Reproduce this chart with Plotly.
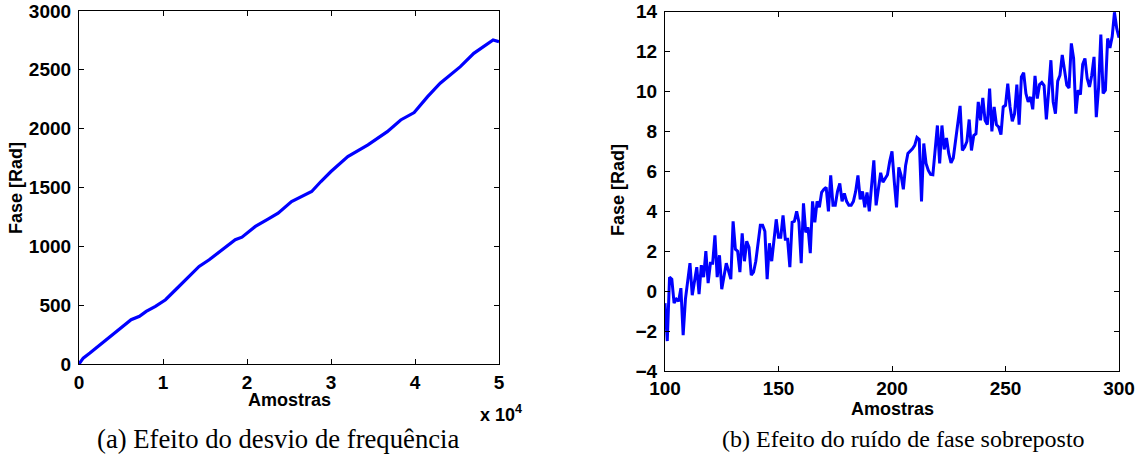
import plotly.graph_objects as go

# ---- data: (a) frequency deviation ----
amostras_a = [0, 500, 1300, 2800, 4800, 6200, 7200, 8000, 9100, 10300, 11500, 12700,
              14300, 15500, 17000, 18600, 19400, 21000, 22500, 23700, 25300, 26900,
              27700, 28800, 30000, 32000, 34400, 36700, 38300, 39900, 41500, 43000,
              45400, 47000, 49300, 50000]
fase_a = [0, 50, 93, 178, 291, 376, 405, 447, 490, 546, 631, 716, 829, 886, 971, 1056,
          1078, 1169, 1231, 1282, 1381, 1438, 1466, 1551, 1636, 1763, 1862, 1975, 2074,
          2137, 2272, 2386, 2527, 2640, 2754, 2740]

# ---- data: (b) superposed phase noise, samples 100..300 ----
amostras_b = list(range(100, 301))
fase_b = [
    -0.6, -2.5, 0.7, 0.6, -0.6, -0.4, -0.5, 0.15, -2.2, -0.4,      # 100-109
    0.5, 1.4, -0.2, 0.5, 1.2, -0.15, 1.3, 0.7, 2.0, 0.4,           # 110-119
    1.4, 1.4, 2.8, 0.7, 1.8, 0.1, 0.8, 1.4, 1.0, 0.6,              # 120-129
    3.5, 2.1, 2.0, 0.95, 2.9, 1.5, 2.5, 2.2, 0.8, 0.95,            # 130-139
    1.5, 2.4, 3.3, 3.3, 3.0, 0.6, 2.4, 1.5, 2.6, 3.6,              # 140-149
    2.7, 2.7, 3.8, 2.6, 2.6, 1.2, 3.45, 3.5, 4.0, 3.45,            # 150-159
    1.4, 4.4, 2.95, 3.2, 1.9, 4.5, 3.45, 4.5, 4.2, 4.95,           # 160-169
    5.1, 5.2, 4.0, 5.8, 4.3, 4.3, 5.0, 5.4, 4.5, 4.9,              # 170-179
    4.5, 4.3, 4.3, 4.5, 5.0, 5.8, 4.6, 5.0, 4.2, 4.95,             # 180-189
    4.0, 5.46, 6.55, 4.3, 5.2, 5.93, 5.46, 5.66, 5.83, 6.5,        # 190-199
    7.0, 5.5, 4.2, 6.2, 5.8, 5.1, 6.3, 6.9, 7.0, 7.13,             # 200-209
    7.3, 7.7, 7.6, 4.5, 7.4, 6.4, 6.05, 5.85, 5.83, 6.97,          # 210-219
    8.3, 6.4, 8.3, 7.1, 7.67, 6.9, 6.43, 6.67, 7.47, 8.3,          # 220-229
    9.28, 7.05, 7.22, 7.5, 8.6, 7.05, 7.8, 7.89, 9.48, 8.56,       # 230-239
    9.68, 8.56, 8.34, 10.15, 8.0, 9.23, 8.34, 8.22, 7.84, 9.23,    # 240-249
    9.31, 10.4, 9.23, 8.51, 8.89, 10.35, 8.34, 10.73, 10.95, 9.9,  # 250-259
    9.48, 9.73, 9.11, 10.78, 9.65, 10.35, 10.45, 10.3, 8.6, 10.0,  # 260-269
    11.57, 9.48, 8.89, 10.52, 10.82, 11.83, 10.99, 10.32, 10.18, 12.41,  # 270-279
    11.66, 8.89, 10.07, 9.85, 11.36, 11.66, 10.65, 10.23, 10.82, 11.74,  # 280-289
    8.72, 10.18, 12.86, 9.9, 10.07, 12.66, 12.19, 12.75, 13.97, 13.16,   # 290-299
    12.7,                                                                # 300
]

# tick labels
xticks_a = [0, 10000, 20000, 30000, 40000, 50000]
xticklabels_a = ["0", "1", "2", "3", "4", "5"]
yticks_a = [0, 500, 1000, 1500, 2000, 2500, 3000]
xticks_b = [100, 150, 200, 250, 300]
yticks_b = [-4, -2, 0, 2, 4, 6, 8, 10, 12, 14]

W, H = 1145, 468


def px(x):
    return x / W


def py(y):
    return 1 - y / H


BLUE = "#0000FF"
tick_font = dict(family="Liberation Sans, Arial, sans-serif", size=19, color="black", weight="bold")
lab_font = dict(family="Liberation Sans, Arial, sans-serif", size=18, color="black", weight="bold")

fig = go.Figure()
fig.add_trace(go.Scatter(x=amostras_a, y=fase_a, mode="lines",
                         line=dict(color=BLUE, width=3.2), xaxis="x", yaxis="y",
                         showlegend=False))
fig.add_trace(go.Scatter(x=amostras_b, y=fase_b, mode="lines",
                         line=dict(color=BLUE, width=3), xaxis="x2", yaxis="y2",
                         showlegend=False))

axis_common = dict(showline=True, linecolor="black", linewidth=1.2, mirror="ticks",
                   ticks="inside", ticklen=5, tickcolor="black", tickwidth=1,
                   showgrid=False, zeroline=False, tickfont=tick_font,
                   automargin=False, ticklabeloverflow="allow")

fig.update_layout(
    width=W, height=H,
    margin=dict(l=0, r=0, t=0, b=0, pad=0, autoexpand=False),
    paper_bgcolor="white", plot_bgcolor="white",
    xaxis=dict(domain=[px(79), px(499)], range=[0, 50000], tickvals=xticks_a,
               ticktext=xticklabels_a, anchor="y", ticklabelstandoff=1, **axis_common),
    yaxis=dict(domain=[py(364), py(11)], range=[0, 3000], tickvals=yticks_a,
               anchor="x", ticklabelstandoff=3, **axis_common),
    xaxis2=dict(domain=[px(665), px(1119)], range=[100, 300], tickvals=xticks_b,
                anchor="y2", ticklabelstandoff=0, **axis_common),
    yaxis2=dict(domain=[py(371), py(11.7)], range=[-4, 14], tickvals=yticks_b,
                anchor="x2", ticklabelstandoff=3, **axis_common),
)

annos = [
    dict(text="Amostras", x=px(289), y=py(400), font=lab_font),
    dict(text="x 10<sup>4</sup>", x=px(501), y=py(413), font=lab_font),
    dict(text="Fase [Rad]", x=px(16), y=py(188), font=lab_font, textangle=-90),
    dict(text="Amostras", x=px(892), y=py(409), font=lab_font),
    dict(text="Fase [Rad]", x=px(618), y=py(190), font=lab_font, textangle=-90),
    dict(text="(a) Efeito do desvio de frequência", x=px(278), y=py(439),
         font=dict(family="Liberation Serif, DejaVu Serif, serif", size=26.7, color="black")),
    dict(text="(b) Efeito do ruído de fase sobreposto", x=px(903), y=py(439),
         font=dict(family="Liberation Serif, DejaVu Serif, serif", size=24, color="black")),
]
for a in annos:
    fig.add_annotation(xref="paper", yref="paper", showarrow=False,
                       xanchor="center", yanchor="middle", **a)

fig.write_html("out.html", config={"displayModeBar": False},
               post_script="document.body.style.margin='0px';document.body.style.padding='0px';")
